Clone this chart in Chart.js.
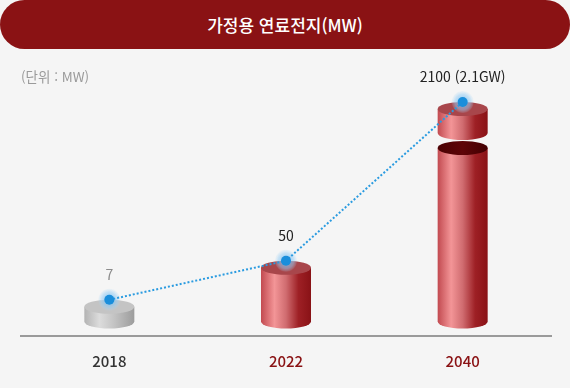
<!DOCTYPE html>
<html lang="ko">
<head>
<meta charset="utf-8">
<script src="https://cdn.jsdelivr.net/npm/chart.js@4/dist/chart.umd.min.js"></script>
<style>
  html, body { margin: 0; padding: 0; background: #f5f5f5; }
  #wrap { position: relative; width: 570px; height: 388px; overflow: hidden; }
  #banner {
    position: absolute; left: 0; top: 0; width: 570px; height: 49px;
    border-radius: 25px; background: #8a1214; color: #fff;
    font: 500 17px 'Noto Sans CJK KR', sans-serif; line-height: 49px; text-align: center;
  }
  #unit {
    position: absolute; left: 21px; top: 66px;
    font: 13.5px 'Noto Sans CJK KR', sans-serif; color: #9a9a9a;
  }
  canvas { position: absolute; left: 0; top: 0; }
</style>
</head>
<body>
<div id="wrap">
  <canvas id="chart" width="570" height="388"></canvas>
  <div id="banner">가정용 연료전지(MW)</div>
  <div id="unit">(단위 : MW)</div>
</div>
<script>
const years = ['2018', '2022', '2040'];
const capacity = [7, 50, 2100];
const valueLabels = ['7', '50', '2100 (2.1GW)'];
const yearColors = ['#333333', '#8a1214', '#8a1214'];
const labelColors = ['#8c8c8c', '#222222', '#222222'];

// linear scale with a break: values up to breakAt get breakFrac of the height
class BrokenScale extends Chart.LinearScale {
  getPixelForValue(value) {
    const { breakAt, breakFrac } = this.options;
    let f;
    if (value <= breakAt) {
      f = (value - this.min) / (breakAt - this.min) * breakFrac;
    } else {
      f = breakFrac + (value - breakAt) / (this.max - breakAt) * (1 - breakFrac);
    }
    return this.getPixelForDecimal(f);
  }
  getValueForPixel(pixel) {
    const { breakAt, breakFrac } = this.options;
    const f = this.getDecimalForPixel(pixel);
    if (f <= breakFrac) return this.min + f / breakFrac * (breakAt - this.min);
    return breakAt + (f - breakFrac) / (1 - breakFrac) * (this.max - breakAt);
  }
}
BrokenScale.id = 'broken';
BrokenScale.defaults = Chart.LinearScale.defaults;
Chart.register(BrokenScale);

Chart.defaults.font.family = "'Noto Sans CJK KR', 'Noto Sans', sans-serif";

const RY = 7;

function bodyGradient(ctx, x0, x1, gray) {
  const g = ctx.createLinearGradient(x0, 0, x1, 0);
  if (gray) {
    g.addColorStop(0, '#b3b3b3');
    g.addColorStop(0.3, '#dcdcdc');
    g.addColorStop(0.6, '#c3c3c3');
    g.addColorStop(1, '#9c9c9c');
  } else {
    g.addColorStop(0, '#c24a50');
    g.addColorStop(0.27, '#f39597');
    g.addColorStop(0.5, '#d06c70');
    g.addColorStop(0.75, '#9e2025');
    g.addColorStop(1, '#891216');
  }
  return g;
}

function drawBody(ctx, cx, w, yTop, yBottom, fill) {
  const x0 = cx - w / 2;
  ctx.beginPath();
  ctx.moveTo(x0, yTop);
  ctx.lineTo(x0, yBottom);
  ctx.ellipse(cx, yBottom, w / 2, RY, 0, Math.PI, 0, true);
  ctx.lineTo(x0 + w, yTop);
  ctx.closePath();
  ctx.fillStyle = fill;
  ctx.fill();
}

function drawTop(ctx, cx, w, y, fill) {
  ctx.beginPath();
  ctx.ellipse(cx, y, w / 2, RY, 0, 0, Math.PI * 2);
  ctx.fillStyle = fill;
  ctx.fill();
}

const cylinders = {
  id: 'cylinders',
  beforeDatasetsDraw(chart) {
    const { ctx } = chart;
    const yScale = chart.scales.y;
    const bars = chart.getDatasetMeta(0).data;
    ctx.save();
    bars.forEach((bar, i) => {
      const gray = i === 0;
      const w = bar.width;
      const cx = bar.x;
      const top = bar.y + RY;
      const base = bar.base;
      const fill = bodyGradient(ctx, cx - w / 2, cx + w / 2, gray);
      if (capacity[i] > yScale.options.breakAt) {
        const lowTop = top + 39;
        drawBody(ctx, cx, w, lowTop, base, fill);
        const dark = ctx.createLinearGradient(cx - w / 2, 0, cx + w / 2, 0);
        dark.addColorStop(0, '#4a0204');
        dark.addColorStop(0.5, '#5e0508');
        dark.addColorStop(1, '#420002');
        drawTop(ctx, cx, w, lowTop, dark);
        drawBody(ctx, cx, w, top, top + 24, fill);
        drawTop(ctx, cx, w, top, '#a8464b');
      } else {
        drawBody(ctx, cx, w, top, base, fill);
        drawTop(ctx, cx, w, top, gray ? '#c4c4c4' : '#a8464b');
      }
    });
    // glow around points
    chart.getDatasetMeta(1).data.forEach((pt) => {
      const g = ctx.createRadialGradient(pt.x, pt.y, 3, pt.x, pt.y, 11);
      g.addColorStop(0, 'rgba(120,190,240,0.75)');
      g.addColorStop(0.6, 'rgba(150,205,245,0.5)');
      g.addColorStop(1, 'rgba(170,215,245,0.1)');
      ctx.beginPath();
      ctx.arc(pt.x, pt.y, 11, 0, Math.PI * 2);
      ctx.fillStyle = g;
      ctx.fill();
    });
    ctx.restore();
  },
  afterDatasetsDraw(chart) {
    const { ctx } = chart;
    ctx.save();
    ctx.font = "14px 'Noto Sans CJK KR', 'Noto Sans', sans-serif";
    ctx.textAlign = 'center';
    ctx.textBaseline = 'middle';
    chart.getDatasetMeta(1).data.forEach((pt, i) => {
      ctx.fillStyle = labelColors[i];
      ctx.fillText(valueLabels[i], pt.x, pt.y - 25);
    });
    ctx.restore();
  }
};

new Chart(document.getElementById('chart'), {
  data: {
    labels: years,
    datasets: [
      {
        type: 'bar',
        data: capacity,
        base: -17,
        backgroundColor: 'rgba(0,0,0,0)',
        barThickness: 50,
        order: 1
      },
      {
        type: 'line',
        data: capacity,
        borderColor: '#2a9be0',
        borderWidth: 2,
        borderDash: [2, 2],
        tension: 0,
        pointRadius: 5,
        pointBackgroundColor: '#1a8edb',
        pointBorderWidth: 0,
        order: 0
      }
    ]
  },
  options: {
    responsive: false,
    animation: false,
    layout: { padding: { left: 21, right: 19, top: 51, bottom: 10 } },
    plugins: { legend: { display: false }, tooltip: { enabled: false } },
    scales: {
      x: {
        offset: true,
        grid: { display: false },
        border: { display: true, color: '#9a9a9a', width: 2 },
        ticks: {
          padding: 8,
          color: (c) => yearColors[c.index],
          font: { size: 15, weight: '500' }
        }
      },
      y: {
        type: 'broken',
        display: false,
        min: -33,
        max: 3000,
        breakAt: 100,
        breakFrac: 0.423
      }
    }
  },
  plugins: [cylinders]
});
</script>
</body>
</html>
